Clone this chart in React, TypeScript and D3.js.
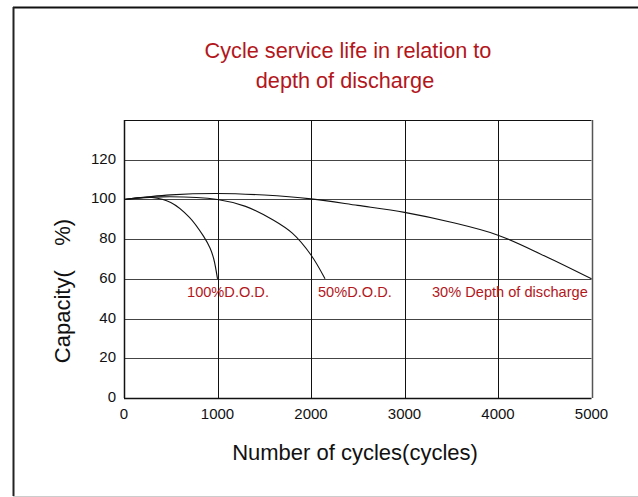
import React, { useEffect, useRef } from 'react';
import * as d3 from 'd3';

// tick values
const xTicks = [0, 1000, 2000, 3000, 4000, 5000];
const yTicks = [0, 20, 40, 60, 80, 100, 120];

// curves (cycles -> capacity %)
const cycles100 = [0, 300, 500, 700, 850, 920, 960, 1000];
const capacity100 = [100, 101, 98.5, 91, 81.5, 75.5, 70, 60];

const cycles50 = [0, 400, 1000, 1300, 1600, 1800, 2000, 2150];
const capacity50 = [100, 101.3, 100, 96.5, 89.5, 83, 72, 60];

const cycles30 = [0, 500, 1000, 1500, 2000, 2500, 3000, 3500, 4000, 4500, 5000];
const capacity30 = [100, 102.3, 103, 102.2, 100.3, 97, 93.5, 88.5, 82, 71.5, 60];

const curveLabels = ['100%D.O.D.', '50%D.O.D.', '30% Depth of discharge'];
const labelCycles = [674, 2075, 3294];

const RED = '#b3161b';
const FONT = 'Liberation Sans, Arial, sans-serif';

const App = () => {
  const svgRef = useRef(null);

  useEffect(() => {
    const W = 638;
    const H = 497;
    const svg = d3.select(svgRef.current);
    svg.selectAll('*').remove();
    svg.attr('width', W).attr('height', H);

    // outer frame
    svg.append('line').attr('x1', 13).attr('x2', W).attr('y1', 7.5).attr('y2', 7.5)
      .attr('stroke', '#111').attr('stroke-width', 2);
    svg.append('line').attr('x1', 13.5).attr('x2', 13.5).attr('y1', 7).attr('y2', 496)
      .attr('stroke', '#222').attr('stroke-width', 2);
    svg.append('line').attr('x1', 13).attr('x2', W).attr('y1', 496.5).attr('y2', 496.5)
      .attr('stroke', '#ccc').attr('stroke-width', 1);

    const x = d3.scaleLinear().domain([0, 5000]).range([124, 591.5]);
    const y = d3.scaleLinear().domain([0, 140]).range([398, 120]);

    // title
    const title = svg.append('text')
      .attr('fill', RED)
      .attr('font-family', FONT).attr('font-size', 21.7)
      .attr('text-anchor', 'middle');
    title.append('tspan').attr('x', 348).attr('y', 58).text('Cycle service life in relation to');
    title.append('tspan').attr('x', 345).attr('y', 88).text('depth of discharge');

    // grid
    const g = svg.append('g');
    g.selectAll('.hgrid').data(yTicks.concat([140])).enter().append('line')
      .attr('x1', x(0)).attr('x2', x(5000))
      .attr('y1', (d) => Math.round(y(d)) + 0.5).attr('y2', (d) => Math.round(y(d)) + 0.5)
      .attr('stroke', (d) => (d === 0 || d === 140 ? '#111' : '#444'))
      .attr('stroke-width', (d) => (d === 0 ? 1.5 : 1));
    g.selectAll('.vgrid').data(xTicks).enter().append('line')
      .attr('y1', y(140)).attr('y2', y(0))
      .attr('x1', (d) => Math.round(x(d)) + 0.5).attr('x2', (d) => Math.round(x(d)) + 0.5)
      .attr('stroke', (d) => (d === 5000 ? '#555' : '#111'))
      .attr('stroke-width', (d) => (d === 0 || d === 5000 ? 1.5 : 1));

    // tick labels
    g.selectAll('.ylab').data(yTicks).enter().append('text')
      .attr('x', 116).attr('y', (d) => y(d) + 4)
      .attr('text-anchor', 'end').attr('font-family', FONT).attr('font-size', 15)
      .attr('fill', '#111').text((d) => d);
    g.selectAll('.xlab').data(xTicks).enter().append('text')
      .attr('x', (d) => x(d)).attr('y', 419)
      .attr('text-anchor', 'middle').attr('font-family', FONT).attr('font-size', 15)
      .attr('fill', '#111').text((d) => d);

    // axis titles
    svg.append('text')
      .attr('x', 355).attr('y', 460)
      .attr('text-anchor', 'middle').attr('font-family', FONT).attr('font-size', 22)
      .attr('fill', '#111').text('Number of cycles(cycles)');
    svg.append('text')
      .attr('transform', 'translate(70,291) rotate(-90)')
      .attr('text-anchor', 'middle').attr('font-family', FONT).attr('font-size', 22)
      .attr('fill', '#111')
      .style('white-space', 'pre')
      .text('Capacity(    %)');

    // curves
    const line = d3.line()
      .x((d) => x(d[0]))
      .y((d) => y(d[1]))
      .curve(d3.curveCatmullRom.alpha(0.5));
    const series = [
      d3.zip(cycles100, capacity100),
      d3.zip(cycles50, capacity50),
      d3.zip(cycles30, capacity30),
    ];
    series.forEach((s) => {
      svg.append('path').datum(s)
        .attr('fill', 'none').attr('stroke', '#111').attr('stroke-width', 1.1)
        .attr('d', line);
    });

    // curve labels
    svg.selectAll('.clab').data(curveLabels).enter().append('text')
      .attr('x', (d, i) => x(labelCycles[i]))
      .attr('y', y(60) + 18)
      .attr('font-family', FONT).attr('font-size', 14.6)
      .attr('fill', RED).text((d) => d);
  }, []);

  return <svg ref={svgRef} style={{ position: 'absolute', left: 0, top: 0, background: '#fff' }}></svg>;
};

export default App;
